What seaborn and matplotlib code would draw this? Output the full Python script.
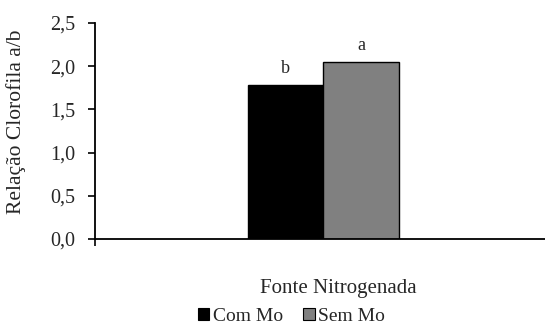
import matplotlib
matplotlib.use("Agg")
import matplotlib.pyplot as plt
from matplotlib.patches import Patch
import seaborn as sns
import pandas as pd

# Data
categoria = ["Fonte Nitrogenada", "Fonte Nitrogenada"]
tratamento = ["Com Mo", "Sem Mo"]
relacao_ab = [1.78, 2.05]
letras = ["b", "a"]
cores = ["#000000", "#808080"]
y_ticks = [0.0, 0.5, 1.0, 1.5, 2.0, 2.5]

df = pd.DataFrame({"cat": categoria, "trat": tratamento, "val": relacao_ab})

sns.set_theme(style="white")
plt.rcParams["font.family"] = ["Liberation Serif", "DejaVu Serif"]

fig = plt.figure(figsize=(5.45, 3.27), dpi=100)
ax = fig.add_axes([0.1743, 0.2691, 0.8257, 0.6606])

sns.barplot(data=df, x="cat", y="val", hue="trat", palette=cores,
            width=0.336, edgecolor="black", linewidth=1.0, ax=ax,
            legend=False, errorbar=None)

ax.set_xlim(-0.507, 0.493)
ax.set_ylim(0, 2.5)
ax.set_yticks(y_ticks)
ax.set_yticklabels([f"{v:.1f}".replace(".", ",") for v in y_ticks], fontsize=14.5)
ax.set_xticks([-0.507])
ax.set_xticklabels([""])
ax.tick_params(axis="both", direction="out", length=5, width=1.2, color="black",
               left=True, bottom=True)
ax.tick_params(axis="y", pad=9)

for side in ["top", "right"]:
    ax.spines[side].set_visible(False)
for side in ["left", "bottom"]:
    ax.spines[side].set_color("black")
    ax.spines[side].set_linewidth(1.3)

# Significance letters above each bar
for patch, letra in zip(ax.patches, letras):
    cx = patch.get_x() + patch.get_width() / 2
    ax.annotate(letra, (cx, patch.get_height()), xytext=(0, 6),
                textcoords="offset points", ha="center", va="bottom", fontsize=13)

ax.set_ylabel("Relação Clorofila a/b", fontsize=15.5, labelpad=9)
ax.yaxis.set_label_coords(-0.153, 0.542)
ax.set_xlabel("")
fig.text(0.62, 0.118, "Fonte Nitrogenada", ha="center", va="center", fontsize=15)

handles = [Patch(facecolor=c, edgecolor="black", linewidth=0.8) for c in cores]
fig.legend(handles, tratamento, loc="center", bbox_to_anchor=(0.535, 0.033),
           ncol=2, frameon=False, fontsize=14, handlelength=0.6, handleheight=0.6,
           handletextpad=0.2, columnspacing=1.0, borderaxespad=0, borderpad=0)

fig.savefig("out.png", dpi=100)
